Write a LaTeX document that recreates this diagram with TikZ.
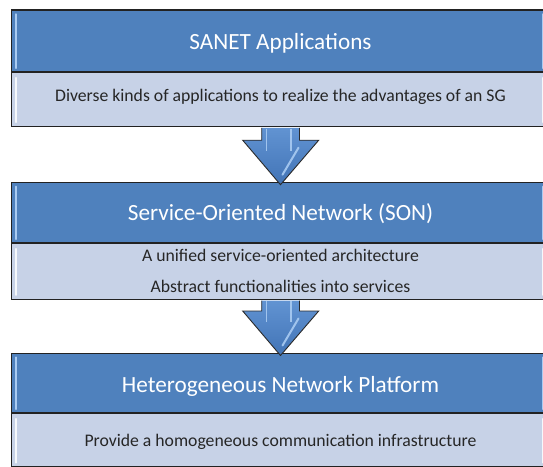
\documentclass[tikz,border=0pt]{standalone}
\usepackage{fontspec}
\setmainfont{Carlito}
\usetikzlibrary{calc}
\definecolor{hdrblue}{HTML}{4F81BD}
\definecolor{bdyblue}{HTML}{C7D2E7}
\definecolor{boxedge}{HTML}{222222}
\definecolor{bodygray}{HTML}{262626}
\definecolor{arrowtop}{HTML}{6193D2}
\definecolor{arrowbot}{HTML}{4274B6}
\definecolor{arrowedge}{HTML}{2B2B2B}
\definecolor{glosshdr}{HTML}{A9CBF2}
\begin{document}
\begin{tikzpicture}[x=1pt,y=-1pt,
  hdrbox/.style={draw=boxedge, line width=1.3pt, fill=hdrblue, rectangle, inner sep=0pt, minimum width=538pt},
  bdybox/.style={draw=boxedge, line width=1.3pt, fill=bdyblue, rectangle, inner sep=0pt, minimum width=538pt},
  titletext/.style={text=white, font=\fontsize{23.2}{27}\selectfont, inner sep=0pt},
  bodytext/.style={text=bodygray, font=\fontsize{17.7}{20}\selectfont, inner sep=0pt},
  glossh/.style={draw=glosshdr, line width=2.2pt, line cap=round},
  glossb/.style={draw=white, line width=2.2pt, line cap=round, opacity=0.85},
  blockarrow/.style={draw=arrowedge, line width=0.9pt, top color=arrowtop, bottom color=arrowbot, line join=miter},
  shafthi/.style={draw=glosshdr, line width=1.6pt, opacity=0.9},
]
\useasboundingbox (0,0) rectangle (543,466);
\fill[white] (0,0) rectangle (543,466);

% boxes
\node[hdrbox, minimum height=61.4pt, anchor=north] (h1) at (280.5,9.3) {};
\node[bdybox, minimum height=53.8pt, anchor=north] (b1) at (h1.south) {};
\node[hdrbox, minimum height=60pt, anchor=north] (h2) at (280.5,181.7) {};
\node[bdybox, minimum height=55.6pt, anchor=north] (b2) at (h2.south) {};
\node[hdrbox, minimum height=59.2pt, anchor=north] (h3) at (280.5,352.5) {};
\node[bdybox, minimum height=53.3pt, anchor=north] (b3) at (h3.south) {};

% gloss strips
\foreach \n in {h1,h2,h3} {
  \draw[glossh] ($(\n.north west)+(5.5,5)$) -- ($(\n.south west)+(5.5,-4)$);
  \draw[glossh] ($(\n.north east)+(-7.5,5)$) -- ($(\n.south east)+(-7.5,-4)$);
}
\foreach \n in {b1,b2,b3} {
  \draw[glossb] ($(\n.north west)+(5.5,6)$) -- ($(\n.south west)+(5.5,-5)$);
  \draw[glossb] ($(\n.north east)+(-7.5,6)$) -- ($(\n.south east)+(-7.5,-5)$);
}

% texts
\node[titletext] (t1) at (280.5,43.5) {SANET Applications};
\node[bodytext] (d1) at (280.5,97) {Diverse kinds of applications to realize the advantages of an SG};
\node[titletext] (t2) at (280.5,214) {Service-Oriented Network (SON)};
\node[bodytext] (d2a) at (280.5,255) {A unified service-oriented architecture};
\node[bodytext] (d2b) at (280.5,286) {Abstract functionalities into services};
\node[titletext] (t3) at (280.5,386) {Heterogeneous Network Platform};
\node[bodytext] (d3) at (280.5,442) {Provide a homogeneous communication infrastructure};

% block arrows
\foreach \a/\b in {b1/h2, b2/h3} {
  \draw[blockarrow] let \p1=(\a.south), \p2=(\b.north) in
    (\x1-18.8pt,\y1-0.7pt) -- (\x1-18.8pt,\y2+41.5pt) -- (\x1-37.8pt,\y2+41.5pt)
    -- (\x1,\y2-3pt) -- (\x1+38.2pt,\y2+41.5pt) -- (\x1+19pt,\y2+41.5pt)
    -- (\x1+19pt,\y1-0.7pt);
  \draw[shafthi] let \p1=(\a.south), \p2=(\b.north) in
    (\x1-14pt,\y1-1.5pt) -- (\x1-14pt,\y2+31pt);
  \draw[shafthi] let \p1=(\a.south), \p2=(\b.north) in
    (\x1+10.5pt,\y1-1.5pt) -- (\x1+10.5pt,\y2+31pt);
  \draw[shafthi, line width=2pt, line cap=round] let \p1=(\a.south), \p2=(\b.north) in
    (\x1+18pt,\y2+34pt) -- (\x1+2pt,\y2+7pt);
}
\end{tikzpicture}
\end{document}
